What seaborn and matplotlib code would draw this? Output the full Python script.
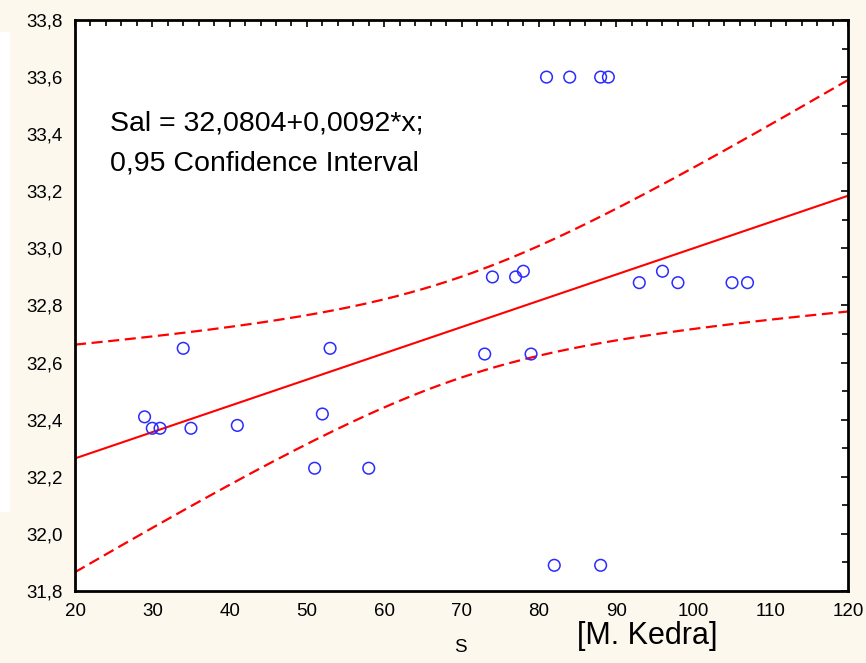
import numpy as np
import pandas as pd
import matplotlib
matplotlib.use("Agg")
import matplotlib.pyplot as plt
from matplotlib.patches import Rectangle
from matplotlib.ticker import MultipleLocator, FuncFormatter
import seaborn as sns

# Observations: S vs salinity
s_values = [29, 30, 31, 34, 35, 41, 51, 52, 53, 58, 73, 74, 77, 78, 79,
            81, 84, 88, 89, 82, 88, 93, 96, 98, 105, 107]
sal_values = [32.41, 32.37, 32.37, 32.65, 32.37, 32.38, 32.23, 32.42, 32.65, 32.23,
              32.63, 32.90, 32.90, 32.92, 32.63, 33.60, 33.60, 33.60, 33.60,
              31.89, 31.89, 32.88, 32.92, 32.88, 32.88, 32.88]

# Fitted model Sal = a + b*x
intercept = 32.0804
slope = 0.0092
t_975_df24 = 2.0639  # Student t quantile for a two-sided 95% interval, n-2 = 24 d.f.

equation_text = "Sal = 32,0804+0,0092*x;"
ci_text = "0,95 Confidence Interval"
x_label = "S"
credit = "[M. Kedra]"

df = pd.DataFrame({"S": s_values, "Sal": sal_values})

# Regression line and analytic confidence band for the mean response
xs = np.linspace(20, 120, 201)
fit = intercept + slope * xs
x_arr = np.asarray(s_values, float)
y_arr = np.asarray(sal_values, float)
n = len(x_arr)
resid = y_arr - (intercept + slope * x_arr)
s_err = np.sqrt(np.sum(resid ** 2) / (n - 2))
sxx = np.sum((x_arr - x_arr.mean()) ** 2)
half = t_975_df24 * s_err * np.sqrt(1.0 / n + (xs - x_arr.mean()) ** 2 / sxx)
band = pd.DataFrame({"x": xs, "fit": fit, "lo": fit - half, "hi": fit + half})

sns.set_style("white")
plt.rcParams["font.family"] = ["Liberation Sans", "DejaVu Sans"]
plt.rcParams["text.color"] = "black"

bg = "#FCF8EE"
fig = plt.figure(figsize=(8.66, 6.63), dpi=100, facecolor=bg)
fig.patches.append(Rectangle((0, 1 - 512 / 663), 10 / 866, (512 - 32) / 663,
                             transform=fig.transFigure, facecolor="white",
                             edgecolor="none", zorder=0))
ax = fig.add_axes([75 / 866, 1 - 591 / 663, (848 - 75) / 866, (591 - 20) / 663])
ax.set_facecolor("white")

sns.lineplot(data=band, x="x", y="fit", ax=ax, color="#FF0000", lw=1.5)
sns.lineplot(data=band, x="x", y="hi", ax=ax, color="#FF0000", lw=1.6,
             linestyle=(0, (5, 2.5)))
sns.lineplot(data=band, x="x", y="lo", ax=ax, color="#FF0000", lw=1.6,
             linestyle=(0, (5, 2.5)))
sns.scatterplot(data=df, x="S", y="Sal", ax=ax, marker="o", s=70,
                facecolor="none", edgecolor="#2B2BFF", linewidth=1.1, zorder=5)

ax.set_xlim(20, 120)
ax.set_ylim(31.8, 33.8)
ax.xaxis.set_major_locator(MultipleLocator(10))
ax.xaxis.set_minor_locator(MultipleLocator(2))
ax.yaxis.set_major_locator(MultipleLocator(0.2))
ax.yaxis.set_minor_locator(MultipleLocator(0.1))
ax.yaxis.set_major_formatter(FuncFormatter(lambda v, p: f"{v:.1f}".replace(".", ",")))
ax.tick_params(which="both", direction="in", top=True, right=True,
               color="black", width=1.2, labelsize=13.5, labelcolor="black")
ax.tick_params(which="major", length=5)
ax.tick_params(which="minor", length=4)
ax.tick_params(axis="y", which="major", pad=9)
ax.tick_params(axis="x", which="major", pad=9)
for sp in ax.spines.values():
    sp.set_visible(True)
    sp.set_color("black")
    sp.set_linewidth(2)

ax.set_xlabel("")
ax.set_ylabel("")
fig.text(460 / 866, 1 - 648 / 663, x_label, ha="center", va="center", fontsize=13.5)
fig.text(647 / 866, 1 - 636 / 663, credit, ha="center", va="center", fontsize=22)

ax.text(110 / 866, 1 - 124 / 663, equation_text, transform=fig.transFigure,
        ha="left", va="center", fontsize=20.5)
ax.text(110 / 866, 1 - 163 / 663, ci_text, transform=fig.transFigure,
        ha="left", va="center", fontsize=20.5)

fig.savefig("out.png", dpi=100, facecolor=bg)
